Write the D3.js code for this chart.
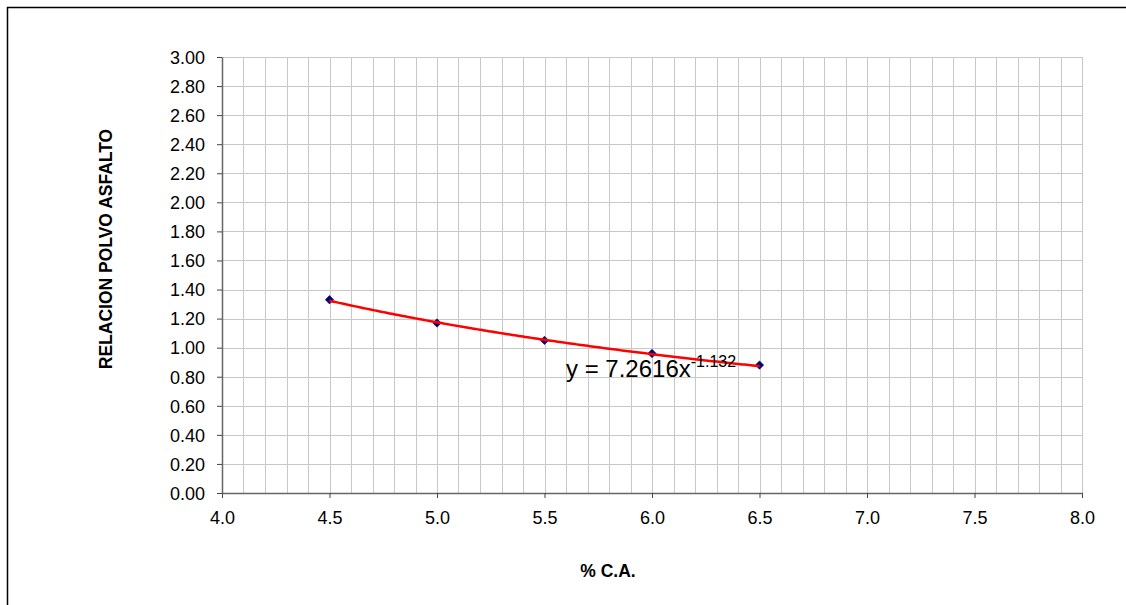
<!DOCTYPE html>
<html><head><meta charset="utf-8">
<script src="https://cdn.jsdelivr.net/npm/d3@7"></script>
<style>body{margin:0;background:#fff}svg{display:block}text{font-family:Arial,"Liberation Sans",sans-serif}</style>
</head><body>
<svg id="c" width="1126" height="605"></svg>
<script>
const xValues = [4.5, 5.0, 5.5, 6.0, 6.5];
const yValues = [1.33, 1.17, 1.05, 0.96, 0.88];
const xTicks = [4.0, 4.5, 5.0, 5.5, 6.0, 6.5, 7.0, 7.5, 8.0];
const yTicks = [0, 0.2, 0.4, 0.6, 0.8, 1.0, 1.2, 1.4, 1.6, 1.8, 2.0, 2.2, 2.4, 2.6, 2.8, 3.0];
const trendA = 7.2616, trendB = -1.132;
const xTitle = "% C.A.";
const yTitle = "RELACION POLVO ASFALTO";

const svg = d3.select("#c");
svg.append("path").attr("d","M7.5,605V7.5H1126").attr("fill","none").attr("stroke","#000").attr("stroke-width",1.5);

const x = d3.scaleLinear().domain([4, 8]).range([222, 1082]);
const y = d3.scaleLinear().domain([0, 3]).range([493, 57]);

const g = svg.append("g");
const vg = d3.range(41).map(i => 4 + i * 0.1);
g.selectAll(".vg").data(vg).join("line")
  .attr("x1", d => Math.round(x(d)) + 0.5).attr("x2", d => Math.round(x(d)) + 0.5)
  .attr("y1", y(3)).attr("y2", y(0)).attr("stroke", "#c8c8c8").attr("stroke-width", 1);
g.selectAll(".hg").data(yTicks).join("line")
  .attr("x1", x(4)).attr("x2", x(8))
  .attr("y1", d => Math.round(y(d)) + 0.5).attr("y2", d => Math.round(y(d)) + 0.5)
  .attr("stroke", "#c8c8c8").attr("stroke-width", 1);

const xAxis = d3.axisBottom(x).tickValues(xTicks).tickFormat(d3.format(".1f")).tickSize(5).tickSizeOuter(0);
const yAxis = d3.axisLeft(y).tickValues(yTicks).tickFormat(d3.format(".2f")).tickSize(5).tickSizeOuter(0);
const gx = svg.append("g").attr("transform", "translate(0,493)").call(xAxis);
const gy = svg.append("g").attr("transform", "translate(222,0)").call(yAxis);
[gx, gy].forEach(a => {
  a.attr("font-size", null).attr("font-family", null);
  a.select(".domain").attr("stroke", "#666").attr("stroke-width", 1.5);
  a.selectAll(".tick line").attr("stroke", "#444");
  a.selectAll("text").style("font-size", "18px").attr("fill", "#000").style("font-family", "Arial, 'Liberation Sans', sans-serif");
});
gx.selectAll("text").attr("y", 18).attr("dy", "0.71em");
gy.selectAll("text").attr("x", -17).attr("dy", "0.35em");

const tr = d3.range(0, 201).map(i => 4.5 + i * 0.01);
const line = d3.line().x(d => x(d)).y(d => y(trendA * Math.pow(d, trendB)));

const dia = "M0,-4.2L4.2,0L0,4.2L-4.2,0Z";
svg.selectAll(".pt").data(xValues).join("path")
  .attr("d", dia)
  .attr("transform", (d, i) => `translate(${x(d)},${y(yValues[i])})`)
  .attr("fill", "#000080").attr("stroke", "#000060").attr("stroke-width", 0.6);
svg.append("path").datum(tr).attr("d", line).attr("fill", "none").attr("stroke", "#ff0000").attr("stroke-width", 2.5);

const eq = svg.append("text").attr("x", 566).attr("y", 377).style("font-size", "24px").attr("fill", "#000");
eq.append("tspan").text("y = " + trendA + "x");
eq.append("tspan").style("font-size", "16px").attr("dy", -10).text(String(trendB));

svg.append("text").attr("x", 608).attr("y", 577).attr("text-anchor", "middle")
  .style("font-size", "17.5px").attr("font-weight", "bold").text(xTitle);
svg.append("text").attr("transform", "translate(112,249) rotate(-90)").attr("text-anchor", "middle")
  .style("font-size", "17.5px").attr("font-weight", "bold").text(yTitle);
</script>
</body></html>
